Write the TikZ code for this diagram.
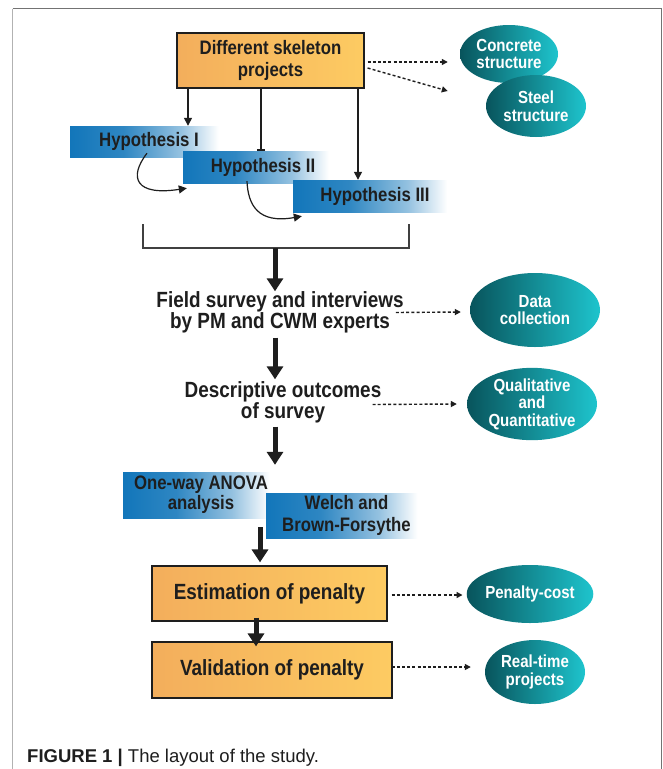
\documentclass[tikz,border=0pt]{standalone}
\usepackage{fontspec}
\setmainfont{Liberation Sans}
\newfontfamily\cf[FakeStretch=0.86]{Liberation Sans}
\usetikzlibrary{arrows.meta,shapes.geometric,calc}
\definecolor{hypblue}{RGB}{18,118,186}
\definecolor{tealdark}{RGB}{8,84,92}
\definecolor{teallight}{RGB}{30,196,205}
\definecolor{orangeL}{RGB}{243,174,92}
\definecolor{orangeR}{RGB}{253,203,98}
\definecolor{ink}{RGB}{30,30,30}
\pgfdeclarehorizontalshading{hypshade}{100bp}{color(0bp)=(hypblue); color(25bp)=(hypblue); color(42bp)=(hypblue!88!white); color(60bp)=(hypblue!45!white); color(72bp)=(white); color(100bp)=(white)}
\pgfdeclarehorizontalshading{tealshade}{100bp}{color(0bp)=(tealdark); color(25bp)=(tealdark); color(75bp)=(teallight); color(100bp)=(teallight)}
\begin{document}
\begin{tikzpicture}[x=1pt,y=-1pt,
  proc/.style={draw=ink, line width=1.2pt, left color=orangeL, right color=orangeR, align=center, inner sep=0pt, text=ink},
  hyp/.style={shading=hypshade, inner sep=0pt, align=center, text=ink, font=\cf\bfseries\fontsize{19.5}{21}\selectfont},
  oval/.style={ellipse, shading=tealshade, inner sep=0pt, align=center, text=white, font=\cf\bfseries\fontsize{17.5}{17.5}\selectfont},
  plain/.style={align=center, inner sep=0pt, text=ink, font=\cf\bfseries\fontsize{22}{21.5}\selectfont},
  thinarr/.style={draw=ink, line width=1.4pt, -{Triangle[length=8pt,width=8pt]}},
  bararr/.style={draw=ink, line width=1.4pt, -{Bar[width=8pt,line width=1.4pt]}},
  curvarr/.style={draw=ink, line width=1.2pt, -{Triangle[length=8pt,width=8pt]}},
  bigarr/.style={draw=ink, line width=5pt, -{Triangle[length=13pt,width=16pt]}},
  dotarr/.style={draw=ink, line width=1.4pt, dash pattern=on 3pt off 2.2pt, -{Triangle[length=6pt,width=6pt]}}
]
\useasboundingbox (0,0) rectangle (663,769);
\fill[white] (0,0) rectangle (663,769);
% frame
\draw[black!30, line width=1.6pt] (12.5,769) -- (12.5,8.5);
\draw[black!55, line width=1.6pt] (12.5,8.5) -- (661.5,8.5) -- (661.5,769);

% top box
\node[proc, minimum width=187pt, minimum height=55pt, font=\cf\bfseries\fontsize{19.5}{22}\selectfont] (skel) at (270.5,60.5) {Different skeleton\\projects};

% ellipses top
\node[oval, minimum width=98pt, minimum height=58pt] (conc) at (509,54) {Concrete\\structure};
\node[oval, minimum width=100pt, minimum height=62pt] (steel) at (536,106) {Steel\\structure};
\draw[dotarr] ([yshift=-1.5pt]skel.east) ++(3,0) coordinate (d1s) -- ($(conc.west)+(-12,8)$);
\draw[dotarr] ([yshift=-7.5pt]skel.east) ++(3,0) coordinate (d2s) -- ($(steel.west)+(-38,-15)$);

% hypotheses
\node[hyp, minimum width=158pt, minimum height=31pt] (h1) at (149,141.5) {Hypothesis I};
\node[hyp, minimum width=155pt, minimum height=32pt] (h2) at (260.5,167) {\hspace{5pt}Hypothesis II};
\node[hyp, minimum width=164pt, minimum height=32pt] (h3) at (375,196) {Hypothesis III};

\draw[thinarr] (skel.south -| 188,0) -- (h1.north -| 188,0);
\draw[bararr] (skel.south -| 261,0) -- (h2.north -| 261,0);
\draw[thinarr] (skel.south -| 358,0) -- (h3.north -| 358,0);

% curved arrows
\coordinate (c1s) at (h1.south -| 147,0);
\coordinate (c1e) at ($(h2.south west)+(4,5)$);
\draw[curvarr] ([yshift=4pt]c1s) .. controls (128,178) and (136,196) .. (c1e);
\coordinate (c2s) at (h2.south -| 247,0);
\coordinate (c2e) at ($(h3.south west)+(9,4)$);
\draw[curvarr] ([yshift=2pt]c2s) .. controls (248,205) and (258,224) .. (c2e);

% bracket
\coordinate (bl) at (143,224);
\coordinate (br) at (409,224);
\coordinate (bm) at (275,248);
\draw[ink!85, line width=1.3pt] (bl) -- (bl |- bm) -- (br |- bm) -- (br);

% field survey
\node[plain] (field) at (280,312.5) {Field survey and interviews\\by PM and CWM experts};
\draw[bigarr] (bm) -- (field.north -| bm);
\node[oval, minimum width=130pt, minimum height=74pt] (data) at (535,310) {Data\\collection};
\draw[dotarr] ($(field.east)+(-8,0)$) -- ($(data.west)+(-9,2)$);

% descriptive
\node[plain] (desc) at (283,402.5) {Descriptive outcomes\\of survey};
\draw[bigarr] ($(field.south -| bm)+(0,4)$) -- ($(desc.north -| bm)+(0,-2)$);
\node[oval, minimum width=130pt, minimum height=72pt] (qual) at (532,404) {Qualitative\\and\\Quantitative};
\draw[dotarr] ($(desc.east)+(-9,2)$) -- ($(qual.west)+(-10,0)$);

% ANOVA / Welch
\node[hyp, minimum width=156pt, minimum height=46pt, font=\cf\bfseries\fontsize{19.5}{20}\selectfont] (anova) at (201,495) {One-way ANOVA\\analysis};
\node[hyp, minimum width=161pt, minimum height=45pt, font=\cf\bfseries\fontsize{19.5}{21.5}\selectfont] (welch) at (346.5,515.5) {Welch and\\Brown-Forsythe};
\draw[bigarr] ($(desc.south -| bm)+(0,3)$) -- ($(anova.north -| bm)+(0,-7)$);

% estimation and validation
\node[proc, minimum width=235pt, minimum height=55pt, font=\cf\bfseries\fontsize{22}{24}\selectfont] (est) at (269.5,593.5) {Estimation of penalty};
\node[proc, minimum width=240pt, minimum height=56pt, font=\cf\bfseries\fontsize{22}{24}\selectfont] (val) at (272,670) {Validation of penalty};
\draw[bigarr] ($(anova.south -| 260,0)+(0,9)$) -- ($(est.north -| 260,0)+(0,-3)$);
\draw[bigarr] ($(est.south -| 256,0)+(0,-4)$) -- ($(val.north -| 256,0)+(0,5)$);

\node[oval, minimum width=104pt, minimum height=58pt] (pen) at (530,594) {Penalty-cost};
\node[oval, minimum width=100pt, minimum height=64pt] (real) at (535,672) {Real-time\\projects};
\draw[dotarr] ($(est.east)+(4,1.5)$) -- ($(pen.west)+(-4,1)$);
\draw[dotarr] ($(val.east)+(-1,-3)$) -- ($(real.west)+(-14,-5)$);

% caption
\node[anchor=base west, inner sep=0pt, text=ink, font=\fontsize{18.5}{20}\selectfont] (cap) at (27,762) {\textbf{FIGURE 1 |} The layout of the study.};
\end{tikzpicture}
\end{document}
